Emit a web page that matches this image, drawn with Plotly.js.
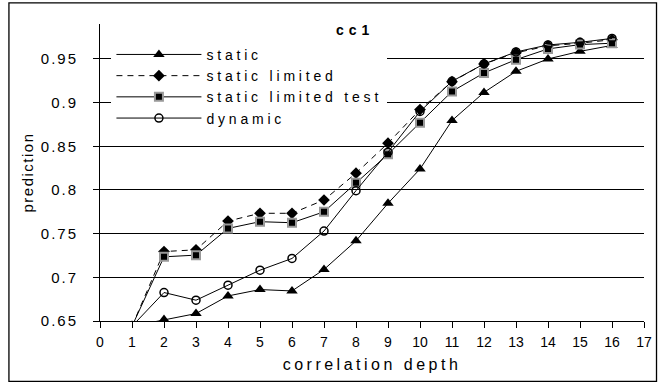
<!DOCTYPE html>
<html>
<head>
<meta charset="utf-8">
<script src="https://cdn.plot.ly/plotly-3.0.1.min.js"></script>
<style>
  html, body { margin: 0; padding: 0; background: #fff; }
  #chart { width: 661px; height: 383px; }
  /* wide, spaced lettering of the chart's labels */
  .legendtext { letter-spacing: 3.8px; }
  .gtitle { letter-spacing: 5px; }
  .xtitle { letter-spacing: 3.5px; }
  .ytitle { letter-spacing: 1.5px; }
  .ytick text { letter-spacing: 2px; }
</style>
</head>
<body>
<div id="chart"></div>
<script>
// correlation depth (x) and prediction rate of each predictor
const depth = [1, 2, 3, 4, 5, 6, 7, 8, 9, 10, 11, 12, 13, 14, 15, 16];
const staticPred = [0.644, 0.6516, 0.6585, 0.6787, 0.686, 0.6844, 0.709, 0.7418, 0.7847, 0.824, 0.8795, 0.9117, 0.9358, 0.950, 0.9587, 0.9655];
const staticLimited = [0.644, 0.7295, 0.7315, 0.7644, 0.7733, 0.7733, 0.7885, 0.8192, 0.8536, 0.892, 0.924, 0.9443, 0.957, 0.965, 0.968, 0.972];
const staticLimitedTest = [0.644, 0.7235, 0.7254, 0.756, 0.7637, 0.7625, 0.775, 0.8084, 0.841, 0.877, 0.9128, 0.934, 0.9492, 0.9615, 0.9664, 0.968];
const dynamicPred = [0.644, 0.6826, 0.6738, 0.691, 0.7082, 0.7216, 0.753, 0.7992, 0.8433, 0.8899, 0.9244, 0.9443, 0.958, 0.966, 0.969, 0.9735];

const seriesNames = ['static', 'static limited', 'static limited test', 'dynamic'];
const yTickVals = [0.65, 0.7, 0.75, 0.8, 0.85, 0.9, 0.95];
const yTickText = ['0.65', '0.7', '0.75', '0.8', '0.85', '0.9', '0.95'];
const xTickVals = [0, 1, 2, 3, 4, 5, 6, 7, 8, 9, 10, 11, 12, 13, 14, 15, 16, 17];

const FONT = 'Liberation Sans, Arial, sans-serif';

const traces = [
  {
    x: depth, y: staticPred, name: seriesNames[0], mode: 'lines+markers',
    line: { color: '#000', width: 1 },
    marker: { symbol: 'triangle-up', size: 10, color: '#000' }
  },
  {
    x: depth, y: staticLimited, name: seriesNames[1], mode: 'lines+markers',
    line: { color: '#000', width: 1, dash: '6px,5px' },
    marker: { symbol: 'diamond', size: 9, color: '#000' }
  },
  {
    x: depth, y: staticLimitedTest, name: seriesNames[2], mode: 'lines+markers',
    line: { color: '#000', width: 1 },
    marker: { symbol: 'square', size: 8, color: '#000', line: { color: '#999', width: 2 } }
  },
  {
    x: depth, y: dynamicPred, name: seriesNames[3], mode: 'lines+markers',
    line: { color: '#000', width: 1 },
    marker: { symbol: 'circle-open', size: 8, color: '#000', line: { width: 1.5 } }
  }
];

const layout = {
  width: 661, height: 383,
  margin: { l: 100, r: 17, t: 24, b: 62 },
  paper_bgcolor: '#fff', plot_bgcolor: '#fff',
  font: { family: FONT, color: '#000', size: 14 },
  title: {
    text: '<b>cc1</b>', font: { family: FONT, size: 14, color: '#000' },
    xref: 'paper', x: 0.469, xanchor: 'center',
    yref: 'container', y: 0.922, yanchor: 'middle'
  },
  xaxis: {
    range: [0, 17], tickvals: xTickVals, ticks: 'outside', ticklen: 6, tickcolor: '#000',
    ticklabelstandoff: 2,
    showgrid: false, zeroline: false, showline: true, linecolor: '#000', linewidth: 1,
    tickfont: { family: FONT, size: 14 },
    title: { text: 'correlation depth', font: { family: FONT, size: 16 }, standoff: 10 }
  },
  yaxis: {
    range: [0.65, 0.99], tickvals: yTickVals, ticktext: yTickText,
    ticks: 'outside', ticklen: 6, tickcolor: '#000', ticklabelstandoff: 12,
    showgrid: true, gridcolor: '#000', gridwidth: 1, zeroline: false,
    showline: true, linecolor: '#000', linewidth: 1,
    tickfont: { family: FONT, size: 15 },
    title: { text: 'prediction', font: { family: FONT, size: 15 }, standoff: 3 }
  },
  showlegend: true,
  legend: {
    x: 0.021, xanchor: 'left', y: 0.95, yanchor: 'top',
    bgcolor: '#fff', borderwidth: 0, itemwidth: 85,
    font: { family: FONT, size: 14, color: '#000' }, tracegroupgap: 0
  },
  shapes: [
    { type: 'rect', xref: 'paper', yref: 'paper', x0: -0.1674, x1: 1.023, y0: -0.2032, y1: 1.0708,
      line: { color: '#000', width: 1.3 }, fillcolor: 'rgba(0,0,0,0)', layer: 'above' }
  ]
};

Plotly.newPlot('chart', traces, layout, { staticPlot: true, displayModeBar: false });
</script>
</body>
</html>
